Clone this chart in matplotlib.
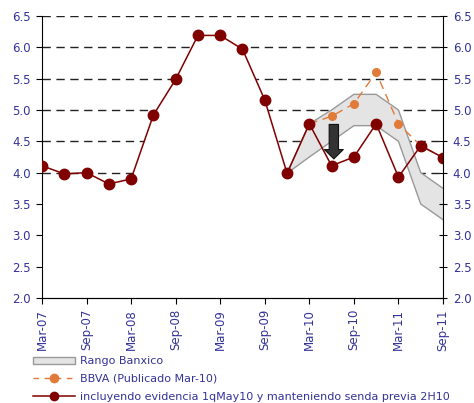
import numpy as np
import pandas as pd
import matplotlib
matplotlib.use('Agg')
import matplotlib.pyplot as plt
from matplotlib.patches import Patch
from matplotlib.lines import Line2D

# trimestres Mar-07 .. Sep-11
fechas = pd.date_range('2007-03-01', periods=19, freq='3MS')
etiquetas = [f.strftime('%b-%y') for f in fechas]

# serie principal (incluyendo evidencia 1qMay10)
evidencia = [4.11, 3.98, 4.00, 3.82, 3.90, 4.92, 5.49, 6.19, 6.19, 5.97,
             5.16, 3.99, 4.78, 4.11, 4.25, 4.78, 3.93, 4.43, 4.24]

# BBVA publicado Mar-10 (desde Mar-10)
bbva_idx = [12, 13, 14, 15, 16, 17, 18]
bbva = [4.78, 4.90, 5.10, 5.60, 4.78, 4.43, 4.24]

# rango Banxico (desde Dec-09)
banx_idx = [11, 12, 13, 14, 15, 16, 17, 18]
banx_sup = [3.99, 4.78, 5.00, 5.25, 5.25, 5.00, 4.00, 3.75]
banx_inf = [3.99, 4.25, 4.50, 4.75, 4.75, 4.50, 3.50, 3.25]

azul = '#333399'
rojo = '#800000'
naranja = '#E07B39'
fs = 8

fig = plt.figure(figsize=(4.74, 4.03), dpi=100)
ax = fig.add_axes([42 / 474, 1 - 298 / 403, 401 / 474, 282 / 403])
x = np.arange(len(evidencia))

# lineas de rejilla punteadas
for yv in [4.0, 4.5, 5.0, 5.5, 6.0, 6.5]:
    ax.axhline(yv, color='#222222', lw=1, ls=(0, (6, 4)), zorder=1)

# area blanca bajo la serie y bajo el rango (tapa la rejilla como en excel)
ev = np.array(evidencia)
ax.fill_between(x[4:12], 2.0, ev[4:12], color='white', lw=0, zorder=2)
ax.fill_between(banx_idx, 2.0, banx_inf, color='white', lw=0, zorder=2)

# rango banxico
ax.fill_between(banx_idx, banx_inf, banx_sup, facecolor='#e4e4e4',
                edgecolor='none', zorder=3)
ax.plot(banx_idx, banx_sup, color='#999999', lw=1, zorder=3)
ax.plot(banx_idx, banx_inf, color='#999999', lw=1, zorder=3)

# BBVA
ax.plot(bbva_idx, bbva, color=naranja, lw=1, ls=(0, (6, 4)), marker='o',
        ms=5.5, zorder=4)

# serie principal
ax.plot(x, evidencia, color=rojo, lw=1.1, marker='o', ms=7.5, zorder=5)

# flecha
ax.annotate('', xy=(13.1, 4.22), xytext=(13.1, 4.77),
            arrowprops=dict(arrowstyle='simple,head_width=0.85,head_length=0.42,tail_width=0.42',
                            fc='#333333', ec='#111111', lw=0.8, mutation_scale=16,
                            shrinkA=0, shrinkB=0),
            zorder=6)

ax.set_xlim(0, 18)
ax.set_ylim(2.0, 6.5)
yt = np.arange(2.0, 6.51, 0.5)
ax.set_yticks(yt)
ax.set_yticklabels([f'{v:.1f}' for v in yt])
ax.set_xticks(x[::2])
ax.set_xticklabels(etiquetas[::2], rotation=90)

ax.spines['top'].set_visible(False)
ax.spines['right'].set_visible(False)
ax.tick_params(axis='y', direction='out', length=4, colors='black',
               labelcolor=azul, labelsize=fs + 0.5, pad=4)
ax.tick_params(axis='x', direction='out', length=4, colors='black',
               labelcolor=azul, labelsize=fs + 0.5, pad=4)

# eje derecho
ax2 = ax.twinx()
ax2.set_ylim(2.0, 6.5)
ax2.set_yticks(yt)
ax2.set_yticklabels([f'{v:.1f}' for v in yt])
ax2.spines['top'].set_visible(False)
ax2.spines['left'].set_visible(False)
ax2.tick_params(axis='y', direction='inout', length=6, colors='black',
                labelcolor=azul, labelsize=fs + 0.5, pad=4)

# leyenda
handles = [Patch(facecolor='#e4e4e4', edgecolor='#999999', lw=1),
           Line2D([], [], color=naranja, lw=1, ls=(0, (4, 4)), marker='o', ms=6),
           Line2D([], [], color=rojo, lw=1.1, marker='o', ms=6)]
labels = ['Rango Banxico', 'BBVA (Publicado Mar-10)',
          'incluyendo evidencia 1qMay10 y manteniendo senda previa 2H10']
leg = fig.legend(handles, labels, loc='upper left',
                 bbox_to_anchor=(33 / 474, 1 - 356 / 403), frameon=False,
                 fontsize=fs, handlelength=3.8, handleheight=0.6,
                 handletextpad=0.4, labelspacing=0.7, borderpad=0,
                 borderaxespad=0)
for t in leg.get_texts():
    t.set_color(azul)

fig.savefig('out.png', dpi=100)
